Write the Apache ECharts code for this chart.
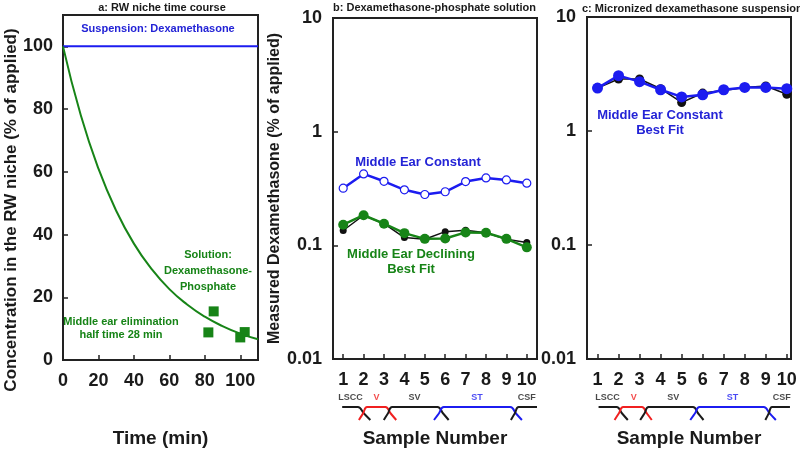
<!DOCTYPE html>
<html>
<head>
<meta charset="utf-8">
<script src="https://cdn.jsdelivr.net/npm/echarts@6/dist/echarts.min.js"></script>
<style>
  html, body { margin: 0; padding: 0; background: #fff; }
  #chart { width: 800px; height: 453px; }
</style>
</head>
<body>
<div id="chart"></div>
<script>
// ---- data ----
// panel a: RW niche time course
const fitTimes = [0, 10, 20, 30, 40, 50, 60, 70, 80, 90, 100, 110];
const fitValues = [100, 78.1, 61.0, 47.6, 37.1, 29.0, 22.6, 17.7, 13.8, 10.8, 8.4, 6.6];
const suspTimes = [0, 110];
const suspValues = [100, 100];
const measTimes = [82, 85, 100, 102.5];
const measValues = [8.8, 15.5, 7.2, 8.9];

// panel b: dexamethasone-phosphate solution
const samples = [1, 2, 3, 4, 5, 6, 7, 8, 9, 10];
const bMeasured = [0.135, 0.184, 0.155, 0.117, 0.113, 0.132, 0.136, 0.129, 0.113, 0.106];
const bDeclining = [0.152, 0.184, 0.155, 0.128, 0.114, 0.115, 0.130, 0.129, 0.114, 0.096];
const bConstant = [0.318, 0.425, 0.366, 0.308, 0.280, 0.296, 0.364, 0.392, 0.376, 0.352];

// panel c: micronized dexamethasone suspension
const cMeasured = [2.38, 2.86, 2.86, 2.35, 1.78, 2.15, 2.27, 2.41, 2.48, 2.10];
const cConstant = [2.38, 3.06, 2.71, 2.30, 1.99, 2.08, 2.30, 2.41, 2.41, 2.35];

const logTicks = ['0.01', '0.1', '1', '10'];

// sampling-region schematic under panels b and c (x in sample units, y 0..1)
const sections = ['LSCC', 'V', 'SV', 'ST', 'CSF'];
const bSectionPaths = [
  [[0.95, 1], [1.72, 1], [2.02, 0.5], [2.33, 0]],
  [[1.77, 0], [1.97, 0.5], [2.17, 1], [3.07, 1], [3.33, 0.5], [3.6, 0]],
  [[2.99, 0], [3.19, 0.5], [3.4, 1], [5.62, 1], [5.9, 0.5], [6.17, 0]],
  [[5.45, 0], [5.69, 0.5], [5.93, 1], [9.19, 1], [9.47, 0.5], [9.76, 0]],
  [[9.22, 0], [9.41, 0.5], [9.6, 1], [10.5, 1]]
];
const bSectionLabelX = [1.36, 2.63, 4.49, 7.56, 10.0];
const cSectionPaths = [
  [[1.05, 1], [1.91, 1], [2.17, 0.5], [2.44, 0]],
  [[1.81, 0], [2.01, 0.5], [2.22, 1], [3.11, 1], [3.35, 0.5], [3.58, 0]],
  [[3.03, 0], [3.23, 0.5], [3.43, 1], [5.54, 1], [5.79, 0.5], [6.04, 0]],
  [[5.41, 0], [5.63, 0.5], [5.85, 1], [8.9, 1], [9.19, 0.5], [9.48, 0]],
  [[8.98, 0], [9.14, 0.5], [9.3, 1], [10.15, 1]]
];
const cSectionLabelX = [1.47, 2.72, 4.6, 7.42, 9.76];

// ---- styling ----
const FONT = 'Liberation Sans, Arial, sans-serif';
const BLUE = '#1c1cf0';
const BLUE_TXT = '#2323d6';
const GREEN = '#178417';
const RED = '#f02020';
const INK = '#1a1a1a';
const sectionColors = { LSCC: INK, V: RED, SV: INK, ST: BLUE, CSF: INK };

const chart = echarts.init(document.getElementById('chart'));

const pair = (xs, ys) => xs.map((x, i) => [x, ys[i]]);

const tickLabel = { fontFamily: FONT, fontSize: 18, fontWeight: 'bold', color: INK };
const axisLine = { show: true, onZero: false, lineStyle: { color: '#222', width: 2 } };
const axisTick = { show: true, inside: true, length: 5, lineStyle: { color: '#222', width: 1.5 } };
const axisName = { fontFamily: FONT, fontSize: 19, fontWeight: 'bold', color: INK };

function sampleAxis(grid, max) {
  return {
    type: 'value', gridIndex: grid, min: 0.5, max: max,
    axisLine: axisLine,
    axisTick: Object.assign({ customValues: samples }, axisTick),
    axisLabel: Object.assign({ customValues: samples, margin: 12 }, tickLabel),
    splitLine: { show: false },
    name: 'Sample Number', nameLocation: 'middle', nameGap: 70, nameTextStyle: axisName
  };
}

function logAxis(grid, name) {
  const ax = {
    type: 'log', gridIndex: grid, logBase: 10, min: 0.01, max: 10,
    axisLine: axisLine, axisTick: axisTick,
    axisLabel: Object.assign({ margin: 11, formatter: v => logTicks[Math.round(Math.log10(v)) + 2] }, tickLabel),
    splitLine: { show: false }, minorTick: { show: false }
  };
  if (name) {
    ax.name = name;
    ax.nameLocation = 'middle';
    ax.nameGap = 33;
    ax.nameTextStyle = { fontFamily: FONT, fontSize: 16, fontWeight: 'bold', color: INK };
  }
  return ax;
}

function schematicSeries(paths, labelX, xIdx) {
  const out = paths.map((p, i) => ({
    type: 'line', xAxisIndex: xIdx, yAxisIndex: xIdx, data: p,
    smooth: 0.4, symbol: 'none', silent: true,
    lineStyle: { color: sectionColors[sections[i]], width: 2 }
  }));
  out.push({
    type: 'scatter', xAxisIndex: xIdx, yAxisIndex: xIdx, symbolSize: 0, silent: true,
    data: labelX.map((x, i) => ({
      value: [x, 1.75],
      label: {
        show: true, position: 'inside', formatter: sections[i],
        fontFamily: FONT, fontSize: 9, fontWeight: 'bold', color: sectionColors[sections[i]]
      }
    }))
  });
  return out;
}

const hiddenAxis = (grid, min, max) => ({ type: 'value', gridIndex: grid, min: min, max: max, show: false });

const textEl = (x, y, text, color, size, align) => ({
  type: 'text', x: x, y: y, silent: true,
  style: {
    text: text, fill: color || INK, align: align || 'center', verticalAlign: 'middle',
    font: 'bold ' + (size || 11) + 'px ' + FONT
  }
});

const option = {
  animation: false,
  backgroundColor: '#fff',
  grid: [
    { left: 63, top: 15, width: 195, height: 347, show: true, borderColor: '#222', borderWidth: 2 },
    { left: 333, top: 18, width: 204, height: 344, show: true, borderColor: '#222', borderWidth: 2 },
    { left: 587, top: 17, width: 204, height: 345, show: true, borderColor: '#222', borderWidth: 2 },
    { left: 333, top: 394, width: 204, height: 26 },
    { left: 587, top: 394, width: 204, height: 26 }
  ],
  xAxis: [
    {
      type: 'value', gridIndex: 0, min: 0, max: 110, interval: 20,
      axisLine: axisLine, axisTick: axisTick,
      axisLabel: Object.assign({ margin: 12, showMaxLabel: false }, tickLabel),
      splitLine: { show: false },
      name: 'Time (min)', nameLocation: 'middle', nameGap: 69, nameTextStyle: axisName
    },
    sampleAxis(1, 10.5),
    sampleAxis(2, 10.2),
    hiddenAxis(3, 0.5, 10.5),
    hiddenAxis(4, 0.5, 10.2)
  ],
  yAxis: [
    {
      type: 'value', gridIndex: 0, min: 0, max: 110, interval: 20,
      axisLine: axisLine, axisTick: axisTick,
      axisLabel: Object.assign({ margin: 10, showMaxLabel: false }, tickLabel),
      splitLine: { show: false }
    },
    logAxis(1, 'Measured Dexamethasone (% of applied)'),
    logAxis(2, null),
    hiddenAxis(3, 0, 2),
    hiddenAxis(4, 0, 2)
  ],
  series: [
    // panel a
    {
      type: 'line', xAxisIndex: 0, yAxisIndex: 0, data: pair(suspTimes, suspValues),
      symbol: 'none', lineStyle: { color: BLUE, width: 2 }
    },
    {
      type: 'line', xAxisIndex: 0, yAxisIndex: 0, data: pair(fitTimes, fitValues),
      smooth: true, symbol: 'none', lineStyle: { color: GREEN, width: 2 }
    },
    {
      type: 'scatter', xAxisIndex: 0, yAxisIndex: 0, data: pair(measTimes, measValues),
      symbol: 'rect', symbolSize: 10, itemStyle: { color: GREEN, opacity: 1 }
    },
    // panel b
    {
      type: 'line', xAxisIndex: 1, yAxisIndex: 1, data: pair(samples, bMeasured),
      symbol: 'circle', symbolSize: 7, itemStyle: { color: '#111' }, lineStyle: { color: '#111', width: 1.5 }
    },
    {
      type: 'line', xAxisIndex: 1, yAxisIndex: 1, data: pair(samples, bDeclining),
      symbol: 'circle', symbolSize: 10, itemStyle: { color: GREEN }, lineStyle: { color: GREEN, width: 2.5 }
    },
    {
      type: 'line', xAxisIndex: 1, yAxisIndex: 1, data: pair(samples, bConstant),
      symbol: 'circle', symbolSize: 8,
      itemStyle: { color: '#fff', borderColor: BLUE, borderWidth: 1.2 },
      lineStyle: { color: BLUE, width: 2.5 }
    },
    // panel c
    {
      type: 'line', xAxisIndex: 2, yAxisIndex: 2, data: pair(samples, cMeasured),
      symbol: 'circle', symbolSize: 9, itemStyle: { color: '#111' }, lineStyle: { color: '#111', width: 1.5 }
    },
    {
      type: 'line', xAxisIndex: 2, yAxisIndex: 2, data: pair(samples, cConstant),
      symbol: 'circle', symbolSize: 11, itemStyle: { color: BLUE }, lineStyle: { color: BLUE, width: 2.5 }
    }
  ]
    .concat(schematicSeries(bSectionPaths, bSectionLabelX, 3))
    .concat(schematicSeries(cSectionPaths, cSectionLabelX, 4)),
  graphic: [
    // panel titles
    textEl(162, 8, 'a: RW niche time course'),
    textEl(333, 8, 'b: Dexamethasone-phosphate solution', INK, 11, 'left'),
    textEl(582, 9, 'c: Micronized dexamethasone suspension', INK, 11, 'left'),
    // panel a y name
    {
      type: 'text', x: 11, y: 210, rotation: Math.PI / 2, silent: true,
      style: {
        text: 'Concentration in the RW niche (% of applied)', fill: INK,
        align: 'center', verticalAlign: 'middle', font: 'bold 17px ' + FONT
      }
    },
    // in-plot annotations
    textEl(158, 29, 'Suspension: Dexamethasone', BLUE_TXT),
    textEl(208, 255, 'Solution:', GREEN),
    textEl(208, 271, 'Dexamethasone-', GREEN),
    textEl(208, 287, 'Phosphate', GREEN),
    textEl(121, 322, 'Middle ear elimination', GREEN),
    textEl(121, 335, 'half time 28 min', GREEN),
    textEl(418, 162, 'Middle Ear Constant', BLUE_TXT, 13),
    textEl(411, 254, 'Middle Ear Declining', GREEN, 13),
    textEl(411, 269, 'Best Fit', GREEN, 13),
    textEl(660, 115, 'Middle Ear Constant', BLUE_TXT, 13),
    textEl(660, 130, 'Best Fit', BLUE_TXT, 13)
  ]
};

chart.setOption(option);
</script>
</body>
</html>
